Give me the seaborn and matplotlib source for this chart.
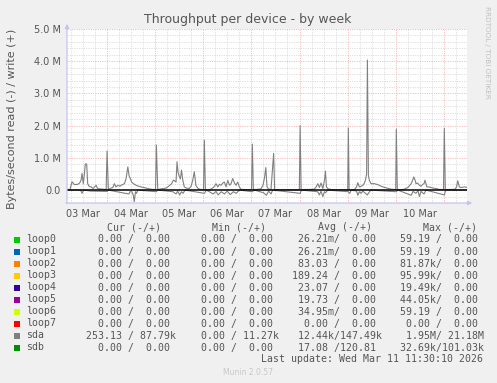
import matplotlib
matplotlib.use("Agg")
import matplotlib.pyplot as plt
from matplotlib.patches import Rectangle
import numpy as np
import pandas as pd
import seaborn as sns

# ---------------- data (hours relative to 04 Mar 00:00, values in MB/s) ----------------
write_hours = [-19.8, -18.3, -17.3, -16.1, -14.4, -13.5, -12.8, -12.3, -11.7, -11.2, -10.7, -10.0,
               -9.5, -8.8, -7.8, -6.8, -5.3, -4.6, -3.7, -1.8, -0.3, 0.15, 0.8, 1.6, 3.0, 3.8, 4.6,
               5.6, 6.6, 7.1, 8.1, 8.8, 9.6, 10.5, 11.1, 11.6, 12.4, 12.9, 13.8, 14.6, 15.8, 17.1,
               18.3, 19.6, 21.1, 22.9, 24.3, 24.7, 25.4, 26.5, 28.0, 29.5, 31.2, 32.3, 33.2, 34.0,
               34.5, 35.0, 35.5, 36.2, 36.7, 37.2, 37.9, 38.6, 39.7, 41.1, 42.0, 42.8, 43.6, 44.1,
               44.4, 45.5, 46.5, 48.2, 48.6, 49.1, 50.0, 51.1, 52.4, 53.4, 54.4, 55.3, 56.1, 56.9,
               57.8, 58.6, 59.4, 60.3, 61.1, 61.9, 62.7, 63.6, 64.4, 65.2, 66.0, 66.9, 68.4, 70.4,
               72.1, 72.5, 73.0, 74.5, 75.9, 76.8, 77.8, 78.6, 79.2, 79.8, 80.6, 81.8, 82.5, 83.1,
               83.6, 84.8, 86.8, 88.8, 90.8, 92.8, 94.8, 95.9, 96.3, 96.8, 97.8, 99.3, 101.3, 103.3,
               104.3, 105.1, 105.9, 106.7, 107.6, 108.4, 108.9, 109.4, 110.2, 112.5, 114.7, 116.7,
               118.7, 120.0, 120.3, 120.7, 121.7, 123.4, 124.4, 125.0, 125.8, 126.7, 127.5, 128.1,
               128.8, 129.4, 129.8, 130.3, 130.8, 131.6, 133.3, 135.0, 136.6, 139.1, 141.6, 143.1,
               143.9, 144.2, 144.7, 146.1, 147.4, 148.6, 149.9, 150.8, 151.6, 152.3, 152.9, 153.6,
               154.0, 154.8, 155.7, 156.5, 157.4, 158.0, 158.5, 159.4, 160.5, 161.5, 162.7, 164.0,
               165.6, 167.7, 168.1, 168.6, 169.5, 170.6, 172.0, 173.5, 174.2, 174.8, 175.6, 176.4,
               177.3, 178.2, 178.9, 179.4]
write_mb = [0.02, 0.02, 0.26, 0.17, 0.18, 0.22, 0.31, 0.52, 0.20, 0.45, 0.81, 0.81,
            0.20, 0.12, 0.10, 0.05, 0.15, 0.05, 0.04, 0.03, 0.02, 1.21, 0.02, 0.05, 0.08, 0.20, 0.10,
            0.15, 0.12, 0.15, 0.18, 0.20, 0.35, 0.72, 0.45, 0.38, 0.25, 0.22, 0.18, 0.15, 0.12, 0.10,
            0.08, 0.06, 0.04, 0.02, 0.02, 1.40, 0.02, 0.03, 0.05, 0.06, 0.14, 0.20, 0.31, 0.28,
            0.25, 0.88, 0.55, 0.41, 0.35, 0.62, 0.30, 0.10, 0.06, 0.05, 0.12, 0.30, 0.57, 0.30,
            0.14, 0.05, 0.02, 0.02, 1.55, 0.02, 0.00, 0.00, 0.05, 0.10, 0.20, 0.10, 0.18, 0.15,
            0.22, 0.25, 0.10, 0.30, 0.15, 0.20, 0.36, 0.22, 0.15, 0.25, 0.10, 0.02, 0.02, 0.01,
            0.02, 1.43, 0.02, 0.02, 0.03, 0.04, 0.15, 0.40, 0.70, 0.10, 0.03, 0.02, 0.60, 1.14,
            0.02, 0.01, 0.01, 0.01, 0.01, 0.01, 0.01, 0.01, 2.00, 0.00, 0.02, 0.02, 0.02, 0.03,
            0.10, 0.20, 0.08, 0.22, 0.05, 0.30, 0.59, 0.10, 0.04, 0.01, 0.01, 0.01,
            0.01, 0.01, 1.93, 0.00, 0.00, 0.02, 0.10, 0.23, 0.10, 0.12, 0.15, 0.20,
            0.30, 0.50, 4.04, 0.45, 0.30, 0.20, 0.20, 0.17, 0.12, 0.07, 0.03, 0.02,
            0.02, 1.89, 0.01, 0.01, 0.02, 0.04, 0.08, 0.14, 0.20, 0.30, 0.41, 0.30,
            0.20, 0.22, 0.15, 0.12, 0.18, 0.20, 0.31, 0.10, 0.10, 0.08, 0.06, 0.05,
            0.02, 0.02, 1.92, 0.00, 0.02, 0.02, 0.02, 0.03, 0.10, 0.29, 0.10, 0.08,
            0.09, 0.10, 0.09, 0.09]

read_hours = [-19.8, -13.0, -12.3, -11.5, -8.0, 0.2, 0.8, 11.0, 11.6, 12.5, 13.2, 13.7, 14.3, 14.8,
              15.5, 24.7, 25.4, 33.0, 34.5, 35.3, 36.3, 37.2, 38.0, 39.0, 48.6, 49.6, 51.1, 53.0,
              54.4, 55.5, 57.0, 58.6, 60.0, 61.5, 63.0, 64.5, 66.0, 72.5, 73.5, 78.0, 79.5, 80.6,
              81.8, 82.6, 96.3, 97.0, 105.0, 105.9, 106.7, 107.6, 108.4, 109.0, 110.0, 120.3,
              121.0, 121.7, 124.4, 125.0, 125.8, 126.7, 127.5, 129.8, 130.5, 131.5, 144.2, 145.0,
              151.6, 152.5, 154.0, 155.0, 155.7, 156.5, 158.0, 159.0, 168.1, 168.8, 179.4]
read_mb = [0.0, 0.0, -0.10, 0.0, -0.03, -0.04, 0.0, -0.12, -0.05, -0.05, -0.15, -0.36, -0.05, -0.10,
           0.0, -0.05, 0.0, -0.05, -0.12, -0.03, -0.15, -0.05, -0.10, 0.0, -0.10, 0.0, -0.05, -0.12,
           -0.04, -0.15, -0.05, -0.12, -0.03, -0.14, -0.05, -0.10, 0.0, -0.05, 0.0, -0.08, -0.16, -0.03,
           -0.12, 0.0, -0.10, 0.0, -0.05, -0.15, -0.03, -0.20, -0.05, -0.08, 0.0, -0.05,
           -0.10, 0.0, -0.03, -0.16, -0.05, -0.10, -0.03, -0.15, -0.08, 0.0, -0.05, 0.0,
           -0.16, -0.04, -0.10, -0.02, -0.20, -0.04, -0.12, 0.0, -0.15, 0.0, 0.0]

day_labels = ["03 Mar", "04 Mar", "05 Mar", "06 Mar", "07 Mar", "08 Mar", "09 Mar", "10 Mar"]
day_label_hours = [-12, 12, 36, 60, 84, 108, 132, 156]
ytick_values = [0.0, 1.0, 2.0, 3.0, 4.0, 5.0]
ytick_labels = ["0.0", "1.0 M", "2.0 M", "3.0 M", "4.0 M", "5.0 M"]

legend_names = ["loop0", "loop1", "loop2", "loop3", "loop4", "loop5", "loop6", "loop7", "sda", "sdb"]
legend_colors = ["#00CC00", "#0066B3", "#FF8000", "#FFCC00", "#330099", "#990099", "#CCFF00",
                 "#FF0000", "#808080", "#008F00"]
cur_col = ["  0.00 /  0.00 ", "  0.00 /  0.00 ", "  0.00 /  0.00 ", "  0.00 /  0.00 ",
           "  0.00 /  0.00 ", "  0.00 /  0.00 ", "  0.00 /  0.00 ", "  0.00 /  0.00 ",
           "253.13 / 87.79k", "  0.00 /  0.00 "]
min_col = ["  0.00 /  0.00 ", "  0.00 /  0.00 ", "  0.00 /  0.00 ", "  0.00 /  0.00 ",
           "  0.00 /  0.00 ", "  0.00 /  0.00 ", "  0.00 /  0.00 ", "  0.00 /  0.00 ",
           "  0.00 / 11.27k", "  0.00 /  0.00 "]
avg_col = [" 26.21m/  0.00 ", " 26.21m/  0.00 ", " 83.03 /  0.00 ", "189.24 /  0.00 ",
           " 23.07 /  0.00 ", " 19.73 /  0.00 ", " 34.95m/  0.00 ", "  0.00 /  0.00 ",
           " 12.44k/147.49k", " 17.08 /120.81 "]
max_col = [" 59.19 /  0.00 ", " 59.19 /  0.00 ", " 81.87k/  0.00 ", " 95.99k/  0.00 ",
           " 19.49k/  0.00 ", " 44.05k/  0.00 ", " 59.19 /  0.00 ", "  0.00 /  0.00 ",
           "  1.95M/ 21.18M", " 32.69k/101.03k"]

# ---------------- figure ----------------
W, H = 497, 383
BG = "#F0F0F0"
TXT = "#555555"
plt.rcParams["font.family"] = ["DejaVu Sans"]

fig = plt.figure(figsize=(W / 100, H / 100), dpi=100, facecolor=BG)
ax = fig.add_axes([67 / W, 1 - 203 / H, 400 / W, 174 / H])
ax.set_facecolor("white")
for s in ax.spines.values():
    s.set_visible(False)

xmin, xmax = -19.8, 179.4
ymin, ymax = -0.4, 5.0
ax.set_xlim(xmin, xmax)
ax.set_ylim(ymin, ymax)

minor_c = "#D4D4D4"
major_c = "#F0A8A8"
dash = (0, (1.2, 1.6))
for yv in np.arange(-0.4, 5.01, 0.2):
    if abs(yv - round(yv)) > 1e-6:
        ax.axhline(yv, color=minor_c, lw=0.6, ls=dash, zorder=0)
for xv in np.arange(-18, 180, 6):
    if xv % 24 != 0:
        ax.axvline(xv, color=minor_c, lw=0.6, ls=dash, zorder=0)
for yv in range(1, 6):
    ax.axhline(yv, color=major_c, lw=0.6, ls=dash, zorder=0.5)
for xv in range(0, 180, 24):
    ax.axvline(xv, color=major_c, lw=0.6, ls=dash, zorder=0.5)

dfw = pd.DataFrame({"hour": write_hours, "value": write_mb})
dfr = pd.DataFrame({"hour": read_hours, "value": read_mb})
sns.lineplot(data=dfw, x="hour", y="value", color="#808080", lw=0.8, ax=ax,
             estimator=None, zorder=2)
sns.lineplot(data=dfr, x="hour", y="value", color="#808080", lw=0.8, ax=ax,
             estimator=None, zorder=2)
ax.axhline(0, color="black", lw=1.1, zorder=3)

ax.set_xlabel("")
ax.set_ylabel("")
ax.set_xticks(day_label_hours)
ax.set_xticklabels(day_labels)
ax.set_yticks(ytick_values)
ax.set_yticklabels(ytick_labels)
ax.tick_params(axis="both", length=0, labelsize=7, colors=TXT)
ax.tick_params(axis="y", pad=4.5)
ax.tick_params(axis="x", pad=4)

# axis arrows
acol = "#C4C4F0"
ax.annotate("", xy=(67, H - 21), xytext=(67, H - 206), xycoords="figure pixels",
            textcoords="figure pixels",
            arrowprops=dict(arrowstyle="-|>", color=acol, lw=0.9, mutation_scale=6))
ax.annotate("", xy=(475, H - 203), xytext=(63, H - 203), xycoords="figure pixels",
            textcoords="figure pixels",
            arrowprops=dict(arrowstyle="-|>", color=acol, lw=0.9, mutation_scale=6))

# texts
def fx(x):
    return x / W

def fy(y):
    return 1 - y / H

fig.text(fx(248), fy(20), "Throughput per device - by week", ha="center", va="center",
         fontsize=9, color=TXT)
fig.text(fx(12), fy(119), "Bytes/second read (-) / write (+)", ha="center", va="center",
         rotation=90, fontsize=8, color=TXT)
fig.text(fx(487), fy(6), "RRDTOOL / TOBI OETIKER", ha="center", va="top", rotation=270,
         fontsize=5.2, color="#C0C0C0")

mono = "DejaVu Sans Mono"
fs = 7.15
header_y = 227.3
for label, x in zip(["Cur (-/+)", "Min (-/+)", "Avg (-/+)", "Max (-/+)"], [107, 212, 318.3, 422.7]):
    fig.text(fx(x), fy(header_y), label, ha="left", va="center", fontsize=fs,
             family=mono, color=TXT)

col_starts = [86.4, 189.4, 292.5, 393.8]
row_y0, row_dy = 239.5, 12.0
for i, name in enumerate(legend_names):
    y = row_y0 + i * row_dy
    fig.patches.append(Rectangle((fx(14), fy(y + 3)), 6 / W, 6 / H,
                                 transform=fig.transFigure, facecolor=legend_colors[i],
                                 edgecolor="none"))
    fig.text(fx(26), fy(y), name, ha="left", va="center", fontsize=fs, family=mono, color=TXT)
    for xs, col in zip(col_starts, [cur_col, min_col, avg_col, max_col]):
        fig.text(fx(xs), fy(y), col[i], ha="left", va="center", fontsize=fs,
                 family=mono, color=TXT)

fig.text(fx(483), fy(359.3), "Last update: Wed Mar 11 11:30:10 2026", ha="right", va="center",
         fontsize=fs, family=mono, color=TXT)
fig.text(fx(248), fy(372.5), "Munin 2.0.57", ha="center", va="center", fontsize=5.5,
         color="#C8C8C8")

fig.savefig("out.png", dpi=100, facecolor=BG)
